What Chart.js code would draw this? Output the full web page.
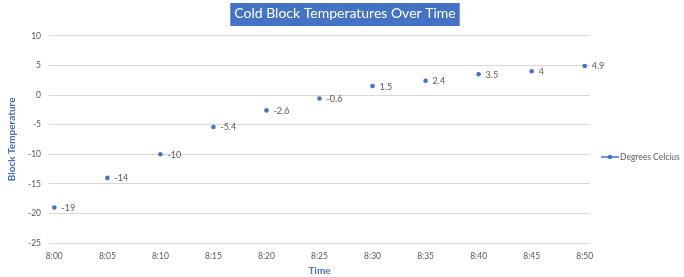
<!DOCTYPE html>
<html>
<head>
<meta charset="utf-8">
<script src="https://cdn.jsdelivr.net/npm/chart.js@4"></script>
<style>
  html, body { margin: 0; padding: 0; background: #ffffff; }
  #wrap { width: 684px; height: 277px; position: relative; }
</style>
</head>
<body>
<div id="wrap"><canvas id="c" width="684" height="277"></canvas></div>
<script>
const times = ["8:00", "8:05", "8:10", "8:15", "8:20", "8:25", "8:30", "8:35", "8:40", "8:45", "8:50"];
const temps = [-19, -14, -10, -5.4, -2.6, -0.6, 1.5, 2.4, 3.5, 4, 4.9];
const seriesName = "Degrees Celcius";
const chartTitle = "Cold Block Temperatures Over Time";
const yTitle = "Block Temperature";
const xTitle = "Time";

const BLUE = "#4472C4";
const GREY = "#595959";
const FONT = "Lato, 'Open Sans', sans-serif";

const points = temps.map((v, i) => ({ x: i, y: v }));

const titleBg = {
  id: "titleBg",
  beforeDraw(chart) {
    const tb = chart.titleBlock;
    if (!tb) return;
    const ctx = chart.ctx;
    ctx.save();
    ctx.font = "14px " + FONT;
    const w = ctx.measureText(chartTitle).width;
    const cx = (tb.left + tb.right) / 2;
    const top = tb.top + 3;
    const h = 23;
    ctx.fillStyle = BLUE;
    ctx.fillRect(cx - w / 2 - 4, top, w + 8, h);
    ctx.restore();
  }
};

const dataLabels = {
  id: "dataLabels",
  afterDatasetsDraw(chart) {
    const ctx = chart.ctx;
    const meta = chart.getDatasetMeta(0);
    ctx.save();
    ctx.font = "9px " + FONT;
    ctx.fillStyle = GREY;
    ctx.textBaseline = "middle";
    ctx.textAlign = "left";
    meta.data.forEach((pt, i) => {
      ctx.fillText(String(temps[i]), pt.x + 7, pt.y + 0.5);
    });
    ctx.restore();
  }
};

const sideLegend = {
  id: "sideLegend",
  afterDraw(chart) {
    const a = chart.chartArea;
    const ctx = chart.ctx;
    const y = a.top + (a.bottom - a.top) * 0.585;
    const x0 = a.right + 11;
    ctx.save();
    ctx.strokeStyle = BLUE;
    ctx.lineWidth = 1.5;
    ctx.beginPath();
    ctx.moveTo(x0, y);
    ctx.lineTo(x0 + 18, y);
    ctx.stroke();
    ctx.fillStyle = BLUE;
    ctx.beginPath();
    ctx.arc(x0 + 9, y, 2.2, 0, Math.PI * 2);
    ctx.fill();
    ctx.font = "8.5px " + FONT;
    ctx.fillStyle = GREY;
    ctx.textBaseline = "middle";
    ctx.fillText(seriesName, x0 + 19, y);
    ctx.restore();
  }
};

new Chart(document.getElementById("c"), {
  type: "scatter",
  data: {
    datasets: [{
      label: seriesName,
      data: points,
      showLine: false,
      backgroundColor: BLUE,
      borderColor: BLUE,
      pointRadius: 2.3,
      pointBorderWidth: 0
    }]
  },
  options: {
    responsive: false,
    animation: false,
    devicePixelRatio: 1,
    layout: { padding: { left: 6, right: 0, top: 0, bottom: 0 } },
    plugins: {
      legend: { display: false },
      tooltip: { enabled: false },
      title: {
        display: true,
        text: chartTitle,
        color: "#ffffff",
        font: { family: FONT, size: 14, weight: "normal" },
        padding: { top: 5, bottom: 14 }
      }
    },
    scales: {
      x: {
        type: "linear",
        min: -0.1,
        max: 10.1,
        afterBuildTicks(scale) {
          scale.ticks = times.map((t, i) => ({ value: i }));
        },
        afterFit(scale) { scale.height = 34; },
        ticks: {
          color: GREY,
          font: { family: FONT, size: 8.5 },
          padding: 8,
          maxRotation: 0,
          callback: (v) => times[v] !== undefined ? times[v] : ""
        },
        grid: { display: false, drawTicks: false },
        border: { display: false },
        title: {
          display: true,
          text: xTitle,
          color: BLUE,
          font: { family: FONT, size: 10, weight: "bold" },
          padding: { top: 3, bottom: 0 }
        }
      },
      y: {
        min: -25,
        max: 10,
        ticks: {
          stepSize: 5,
          color: GREY,
          font: { family: FONT, size: 8.5 },
          padding: 8
        },
        grid: { color: "#d9d9d9", drawTicks: false, lineWidth: 1 },
        border: { display: false },
        title: {
          display: true,
          text: yTitle,
          color: BLUE,
          font: { family: FONT, size: 10, weight: "bold" },
          padding: { top: 0, bottom: 2 }
        }
      },
      legendSpace: {
        type: "linear",
        position: "right",
        display: true,
        ticks: { display: false },
        grid: { display: false, drawTicks: false },
        border: { display: false },
        afterFit(scale) { scale.width = 94; }
      }
    }
  },
  plugins: [titleBg, dataLabels, sideLegend]
});
</script>
</body>
</html>
